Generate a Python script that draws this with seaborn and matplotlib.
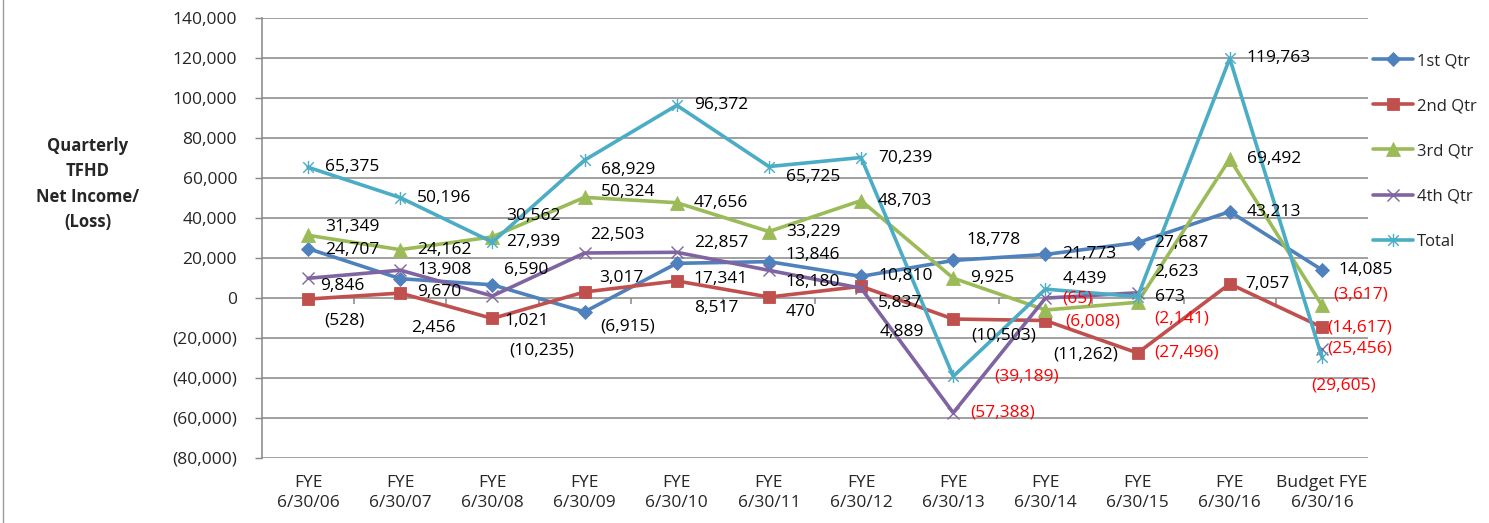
import numpy as np
import pandas as pd
import matplotlib
matplotlib.use("Agg")
import matplotlib.pyplot as plt
from matplotlib.path import Path
from matplotlib.lines import Line2D
from matplotlib.ticker import FuncFormatter
import seaborn as sns

# ---- data -------------------------------------------------------------
categories = ["FYE\n6/30/06", "FYE\n6/30/07", "FYE\n6/30/08", "FYE\n6/30/09",
              "FYE\n6/30/10", "FYE\n6/30/11", "FYE\n6/30/12", "FYE\n6/30/13",
              "FYE\n6/30/14", "FYE\n6/30/15", "FYE\n6/30/16", "Budget FYE\n6/30/16"]
series_names = ["1st Qtr", "2nd Qtr", "3rd Qtr", "4th Qtr", "Total"]
q1 = [24707, 9670, 6590, -6915, 17341, 18180, 10810, 18778, 21773, 27687, 43213, 14085]
q2 = [-528, 2456, -10235, 3017, 8517, 470, 5837, -10503, -11262, -27496, 7057, -14617]
q3 = [31349, 24162, 30562, 50324, 47656, 33229, 48703, 9925, -6008, -2141, 69492, -3617]
q4 = [9846, 13908, 1021, 22503, 22857, 13846, 4889, -57388, -65, 2623, np.nan, -25456]
total = [65375, 50196, 27939, 68929, 96372, 65725, 70239, -39189, 4439, 673, 119763, -29605]
y_ticks = list(range(-80000, 140001, 20000))
axis_title = "Quarterly\nTFHD\nNet Income/\n(Loss)"

# ---- styling ------------------------------------------------------------
sns.set_style("white")
plt.rcParams["font.family"] = ["Open Sans", "DejaVu Sans"]

W, H = 1489, 523
fig = plt.figure(figsize=(W / 100, H / 100), dpi=100)
ax = fig.add_axes([262 / W, (H - 458) / H, (1368 - 262) / W, (458 - 18) / H])

GRID = "#868686"
colors = ["#4F81BD", "#C0504D", "#9BBB59", "#8064A2", "#4BACC6"]

# asterisk marker: an "x" with a vertical bar through it
star = Path([(-1, -1), (1, 1), (-1, 1), (1, -1), (0, -1.25), (0, 1.25)],
            [Path.MOVETO, Path.LINETO, Path.MOVETO, Path.LINETO, Path.MOVETO, Path.LINETO])
marker_kw = [
    dict(marker="D", markersize=7, markeredgewidth=0.6),
    dict(marker="s", markersize=8.5, markeredgewidth=0.6),
    dict(marker="^", markersize=9.5, markeredgewidth=0.6),
    dict(marker="x", markersize=8, markeredgewidth=1.0),
    dict(marker=star, markersize=9.5, markeredgewidth=1.0),
]

values = [q1, q2, q3, q4, total]
xpos = np.arange(len(categories))

df = pd.DataFrame({"pos": np.tile(xpos, len(series_names)),
                   "series": np.repeat(series_names, len(categories)),
                   "value": np.concatenate([np.asarray(v, dtype=float) for v in values])})

handles = []
for k, name in enumerate(series_names):
    sub = df[df["series"] == name]
    # break the line where a value is missing
    seg_id = sub["value"].isna().cumsum()
    sub = sub.assign(seg=seg_id).dropna(subset=["value"])
    for _, seg in sub.groupby("seg"):
        sns.lineplot(data=seg, x="pos", y="value", ax=ax, color=colors[k],
                     linewidth=2.6, markeredgecolor=colors[k], markerfacecolor=colors[k],
                     zorder=3 + k, legend=False, **marker_kw[k])
    handles.append(Line2D([], [], color=colors[k], linewidth=2.6,
                          markeredgecolor=colors[k], markerfacecolor=colors[k], **marker_kw[k]))

# ---- value labels -------------------------------------------------------
# per-label offsets (right, down) in pixels from the data point
offsets = {
    "1st Qtr": [(19, 1), (19, 13), (14, -15), (18, 15), (19, 16), (19, 20),
                (19, 0), (15, -20), (19, 0), (19, 0), (19, 0), (19, 0)],
    "2nd Qtr": [(18, 21), (13, 35), (19, 32), (17, -14), (19, 27), (19, 15),
                (19, 17), (20, 16), (10, 34), (19, 0), (18, 0), (7, 0)],
    "3rd Qtr": [(19, -8), (19, 0), (16, -21), (18, -5), (19, 0), (19, 0),
                (19, 0), (19, 0), (22, 11), (19, 16), (19, 0), (13, -11)],
    "4th Qtr": [(14, 8), (19, 0), (14, 25), (8, -18), (19, -9), (19, -15),
                (21, 44), (19, 0), (19, 0), (19, -21), (0, 0), (7, 0)],
    "Total":   [(19, 0), (19, 0), (16, 0), (18, 10), (19, 0), (19, 10),
                (19, 0), (43, 0), (19, -10), (19, 0), (19, 0), (-9, 28)],
}
red_labels = {("Total", 7), ("4th Qtr", 7), ("4th Qtr", 8), ("3rd Qtr", 8),
              ("3rd Qtr", 9), ("2nd Qtr", 9), ("3rd Qtr", 11), ("2nd Qtr", 11),
              ("4th Qtr", 11), ("Total", 11)}


def fmt(v):
    return f"({abs(v):,.0f})" if v < 0 else f"{v:,.0f}"


for k, name in enumerate(series_names):
    for i, v in enumerate(values[k]):
        if v is None or (isinstance(v, float) and np.isnan(v)):
            continue
        dx, dy = offsets[name][i]
        ax.annotate(fmt(v), xy=(i, v), xytext=(dx - 2, -dy), textcoords="offset pixels",
                    ha="left", va="center", fontsize=12.5,
                    color="#FF0000" if (name, i) in red_labels else "black", zorder=10)

# ---- axes ---------------------------------------------------------------
ax.set_xlim(-0.5, len(categories) - 0.5)
ax.set_ylim(y_ticks[0], y_ticks[-1])
ax.set_yticks(y_ticks)
ax.yaxis.set_major_formatter(FuncFormatter(lambda v, p: "0" if v == 0 else fmt(v)))
ax.set_xticks(xpos)
ax.set_xticklabels(categories, fontsize=12.5, linespacing=1.35)
ax.tick_params(axis="x", length=0, pad=12)
ax.tick_params(axis="y", length=5, width=1, color=GRID, pad=13, labelsize=12.5, left=True)
ax.set_xlabel("")
ax.set_ylabel("")
ax.grid(axis="y", color=GRID, linewidth=1.1)
ax.grid(axis="x", visible=False)
for s in ["top", "right", "bottom"]:
    ax.spines[s].set_visible(False)
ax.spines["left"].set_color(GRID)
ax.spines["left"].set_linewidth(1.1)

# small category-boundary marks hanging from the zero line
ax.vlines(np.arange(0.5, len(categories) - 0.5), -3000, 0, color=GRID, linewidth=1.1, zorder=1)

# ---- legend and titles --------------------------------------------------
ax.legend(handles, series_names, loc="upper left", bbox_to_anchor=(1373 / W, 1 - 53 / H),
          bbox_transform=fig.transFigure, frameon=False, fontsize=12, handlelength=2.4,
          handletextpad=0.25, labelspacing=1.75, borderpad=0, borderaxespad=0, numpoints=1)

fig.text(88 / W, 1 - 184 / H, axis_title, ha="center", va="center", fontsize=12,
         fontweight="bold", linespacing=1.52, multialignment="center")

fig.add_artist(Line2D([3 / W, 3 / W], [0, 1], transform=fig.transFigure, color="#9A9A9A", linewidth=1))

fig.savefig("out.png", dpi=100)
